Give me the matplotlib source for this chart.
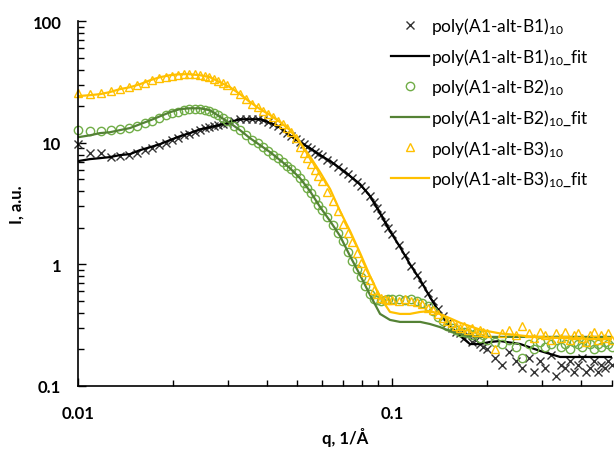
import matplotlib
matplotlib.use('Agg')
import matplotlib.pyplot as plt
from matplotlib.ticker import LogLocator, FixedLocator, NullFormatter, FixedFormatter

plt.rcParams['font.family'] = ['Lato', 'DejaVu Sans']
plt.rcParams['mathtext.default'] = 'regular'

# measured points (shared q grid)
q_data = [0.0100, 0.0109, 0.0118, 0.0127, 0.0136, 0.0145, 0.0154, 0.0163, 0.0172, 0.0181,
          0.0190, 0.0199, 0.0208, 0.0217, 0.0226, 0.0235, 0.0244, 0.0253, 0.0262, 0.0271,
          0.0280, 0.0289, 0.0298,
          0.0313, 0.0328, 0.0343, 0.0358, 0.0373, 0.0388, 0.0403, 0.0418, 0.0433, 0.0448,
          0.0463, 0.0478, 0.0493, 0.0508, 0.0523, 0.0538, 0.0553, 0.0568, 0.0583, 0.0598,
          0.0623, 0.0648, 0.0673, 0.0698, 0.0723, 0.0748, 0.0773, 0.0798, 0.0823, 0.0848,
          0.0873, 0.0898, 0.0923, 0.0948, 0.0973, 0.0998,
          0.105, 0.110, 0.115, 0.120, 0.125, 0.130, 0.135, 0.140, 0.145, 0.150,
          0.155, 0.160, 0.165, 0.170, 0.175, 0.180, 0.185, 0.190, 0.195, 0.200,
          0.212, 0.224, 0.236, 0.248, 0.260, 0.272, 0.284, 0.296, 0.308, 0.320,
          0.332, 0.344, 0.356, 0.368, 0.380, 0.392, 0.404, 0.416, 0.428, 0.440,
          0.452, 0.464, 0.476, 0.488, 0.500]

i_b1 = [9.7, 8.2, 8.3, 7.7, 7.8, 7.9, 8.3, 8.7, 9.1, 9.5, 9.9, 10.5, 11.0, 11.5, 11.9, 12.3,
        12.7, 13.1, 13.4, 13.7, 14.0, 14.3, 14.6,
        15.1, 15.6, 15.7, 15.7, 15.6, 15.4, 14.8, 14.2, 13.6, 12.8, 12.0, 11.3, 10.7, 10.1,
        9.7, 9.3, 8.9, 8.45, 8.08, 7.75,
        7.27, 6.80, 6.35, 5.90, 5.50, 5.13, 4.79, 4.44, 4.05, 3.68, 3.27, 2.88, 2.55, 2.25,
        1.99, 1.79,
        1.44, 1.19, 0.968, 0.817, 0.689, 0.581, 0.499, 0.430, 0.376, 0.329, 0.30, 0.28, 0.27,
        0.25, 0.26, 0.23, 0.24, 0.22, 0.21, 0.20,
        0.17, 0.15, 0.19, 0.16, 0.14, 0.17, 0.13, 0.16, 0.14, 0.18, 0.12, 0.15, 0.14, 0.16,
        0.13, 0.15, 0.17, 0.13, 0.14, 0.16, 0.13, 0.15, 0.14, 0.16, 0.15]

i_b2 = [12.7, 12.4, 12.6, 12.7, 12.9, 13.2, 13.8, 14.5, 15.2, 16.0, 16.8, 17.4, 18.0, 18.5,
        18.9, 19.0, 19.0, 18.7, 18.3, 17.6, 16.8, 16.0, 15.2,
        13.8, 12.7, 11.5, 10.6, 9.87, 9.20, 8.58, 7.98, 7.43, 6.93, 6.47, 6.07, 5.69, 5.15,
        4.67, 4.21, 3.86, 3.45, 3.10, 2.82,
        2.43, 2.10, 1.81, 1.55, 1.27, 1.07, 0.915, 0.780, 0.666, 0.570, 0.52, 0.51, 0.50,
        0.51, 0.52, 0.52,
        0.52, 0.51, 0.52, 0.50, 0.48, 0.45, 0.41, 0.37, 0.34, 0.31, 0.30, 0.29, 0.28, 0.28,
        0.27, 0.26, 0.27, 0.25, 0.26, 0.24,
        0.23, 0.22, 0.24, 0.21, 0.17, 0.22, 0.20, 0.23, 0.21, 0.22, 0.24, 0.21, 0.22, 0.20,
        0.23, 0.22, 0.21, 0.23, 0.22, 0.20, 0.22, 0.21, 0.23, 0.22, 0.21]

i_b3 = [25.8, 25.0, 25.8, 26.6, 27.8, 28.8, 30.0, 31.2, 32.5, 33.8, 34.8, 35.6, 36.3, 36.8,
        37.0, 36.8, 36.3, 35.6, 34.8, 33.5, 32.2, 30.8, 29.6,
        27.3, 25.1, 22.9, 21.0, 19.5, 18.3, 17.2, 16.2, 15.2, 14.2, 13.3, 12.3, 11.0, 9.3,
        8.3, 7.5, 6.7, 6.0, 5.3, 4.8,
        3.96, 3.30, 2.73, 2.15, 1.81, 1.52, 1.25, 1.03, 0.86, 0.74, 0.62, 0.57, 0.53, 0.52,
        0.51, 0.51,
        0.50, 0.52, 0.50, 0.49, 0.47, 0.44, 0.42, 0.39, 0.36, 0.34, 0.33, 0.31, 0.30, 0.31,
        0.29, 0.30, 0.28, 0.29, 0.28, 0.27,
        0.20, 0.27, 0.29, 0.26, 0.31, 0.27, 0.25, 0.28, 0.26, 0.24, 0.27, 0.25, 0.28, 0.24,
        0.26, 0.27, 0.25, 0.23, 0.26, 0.28, 0.24, 0.26, 0.25, 0.27, 0.24]

# fitted curves
q_fit = [0.0100, 0.0109, 0.01175, 0.01264, 0.0136, 0.01464, 0.01575, 0.0170, 0.01825, 0.0196,
         0.0211, 0.0227, 0.0245, 0.0263, 0.0283, 0.0305, 0.0328, 0.0353, 0.0380, 0.0409,
         0.0440, 0.0473, 0.0509, 0.0548, 0.0590, 0.0635, 0.0683, 0.0735, 0.0791, 0.0851,
         0.0916, 0.0985, 0.106, 0.114, 0.123, 0.132, 0.142, 0.153, 0.165, 0.177,
         0.191, 0.205, 0.221, 0.256, 0.296, 0.343, 0.397, 0.460, 0.500]

fit_b1 = [7.06, 7.33, 7.47, 7.62, 7.91, 8.06, 8.69, 9.20, 9.74, 10.5, 11.3, 12.0, 12.9, 13.4,
          14.0, 14.8, 15.6, 15.6, 15.6, 14.6, 13.3, 11.5, 10.1, 9.03, 7.91, 7.06, 6.18, 5.32,
          4.57, 3.64, 2.64, 1.88, 1.39, 1.005, 0.743, 0.539, 0.398, 0.311, 0.257, 0.221,
          0.221, 0.230, 0.234, 0.221, 0.194, 0.173, 0.173, 0.173, 0.173]

fit_b2 = [11.1, 11.5, 12.0, 12.2, 12.7, 13.2, 14.2, 15.3, 16.5, 17.8, 18.9, 19.2, 19.2, 18.5,
          16.4, 14.5, 12.7, 10.9, 9.55, 8.37, 7.19, 6.18, 5.12, 4.00, 2.96, 2.27, 1.71, 1.17,
          0.817, 0.560, 0.391, 0.349, 0.336, 0.336, 0.336, 0.323, 0.305, 0.283, 0.267, 0.258,
          0.253, 0.253, 0.253, 0.253, 0.253, 0.253, 0.253, 0.253, 0.253]

fit_b3 = [24.2, 24.6, 25.1, 26.1, 27.6, 28.6, 30.3, 32.7, 34.6, 35.9, 36.6, 36.6, 35.9, 34.6,
          31.5, 28.6, 25.1, 21.6, 18.9, 16.9, 14.8, 12.7, 10.1, 7.70, 5.73, 4.16, 2.74, 1.88,
          1.24, 0.801, 0.539, 0.406, 0.391, 0.391, 0.406, 0.413, 0.39, 0.36, 0.33, 0.31,
          0.29, 0.28, 0.27, 0.26, 0.25, 0.248, 0.245, 0.243, 0.243]

sub = r'$_{\mathregular{10}}$'
names = ['poly(A1-alt-B1)', 'poly(A1-alt-B2)', 'poly(A1-alt-B3)']

fig = plt.figure(figsize=(6.14, 4.52), dpi=100)
ax = fig.add_axes([0.127, 0.144, 0.869, 0.807])

black = '#000000'
green = '#70AD47'
green_line = '#548235'
gold = '#FFC000'

ax.plot(q_data, i_b1, ls='none', marker='x', ms=5.5, mew=1.0, color='#333333',
        label=names[0] + sub, clip_on=False)
ax.plot(q_fit, fit_b1, color=black, lw=1.6, label=names[0] + sub + '_fit')
ax.plot(q_data, i_b2, ls='none', marker='o', ms=6, mew=1.0, mfc='none', mec=green,
        label=names[1] + sub, clip_on=False)
ax.plot(q_fit, fit_b2, color=green_line, lw=1.6, label=names[1] + sub + '_fit')
ax.plot(q_data, i_b3, ls='none', marker='^', ms=6, mew=1.0, mfc='none', mec=gold,
        label=names[2] + sub, clip_on=False)
ax.plot(q_fit, fit_b3, color=gold, lw=1.6, label=names[2] + sub + '_fit')

ax.set_xscale('log')
ax.set_yscale('log')
ax.set_xlim(0.01, 0.5)
ax.set_ylim(0.1, 100)

ax.spines['top'].set_visible(False)
ax.spines['right'].set_visible(False)
for s in ['left', 'bottom']:
    ax.spines[s].set_linewidth(1.2)

ax.xaxis.set_major_locator(FixedLocator([0.01, 0.1]))
ax.xaxis.set_major_formatter(FixedFormatter(['0.01', '0.1']))
ax.xaxis.set_minor_locator(LogLocator(base=10, subs=range(2, 10)))
ax.xaxis.set_minor_formatter(NullFormatter())
ax.yaxis.set_major_locator(FixedLocator([0.1, 1, 10, 100]))
ax.yaxis.set_major_formatter(FixedFormatter(['0.1', '1', '10', '100']))
ax.yaxis.set_minor_locator(LogLocator(base=10, subs=range(2, 10)))
ax.yaxis.set_minor_formatter(NullFormatter())

ax.tick_params(which='both', direction='in', width=1.0)
ax.tick_params(which='major', length=6)
ax.tick_params(which='minor', length=4)
ax.tick_params(axis='x', which='major', pad=14, labelsize=12)
ax.tick_params(axis='y', which='major', pad=12, labelsize=12)
for lab in ax.get_xticklabels() + ax.get_yticklabels():
    lab.set_fontweight('bold')

ax.set_xlabel('q, 1/Å', fontsize=12, fontweight='bold', labelpad=4)
ax.set_ylabel('I, a.u.', fontsize=12, fontweight='bold', labelpad=6)

leg = ax.legend(loc='upper right', bbox_to_anchor=(0.97, 1.035), frameon=False, fontsize=12.5,
                numpoints=1, handlelength=2.2, handletextpad=0.1, labelspacing=0.55,
                borderaxespad=0.0)

fig.savefig('out.png', dpi=100)
